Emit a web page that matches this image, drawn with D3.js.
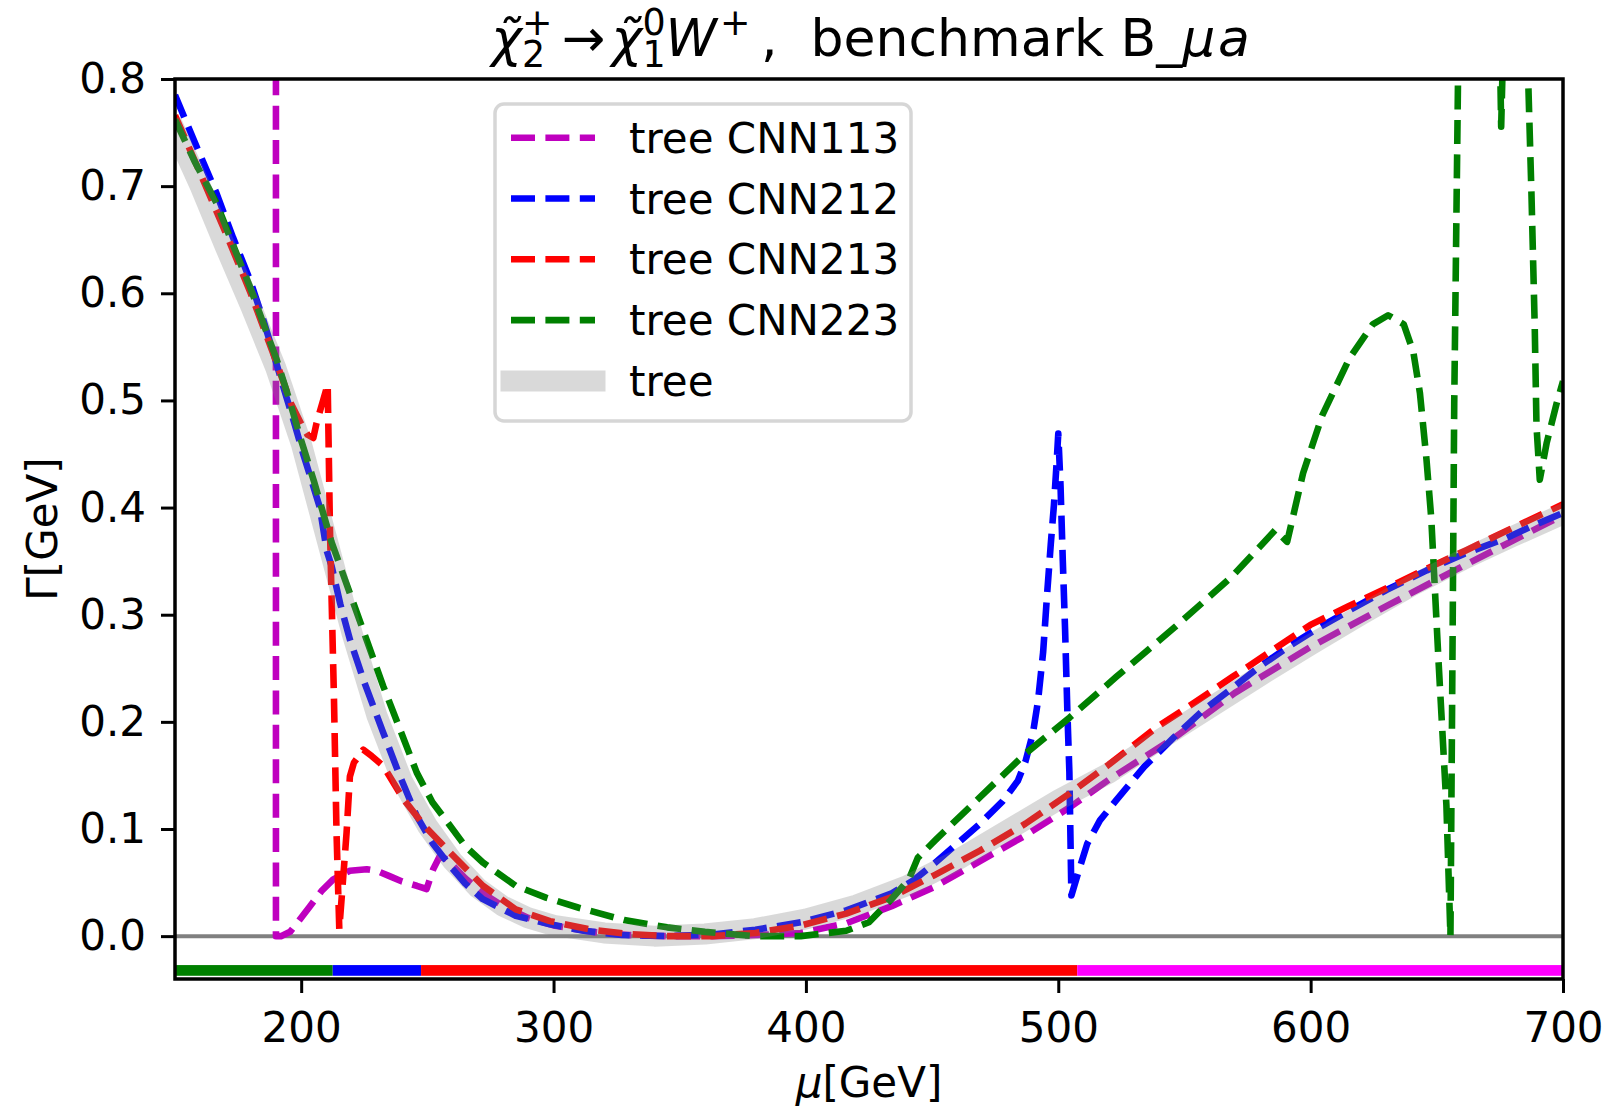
<!DOCTYPE html>
<html><head><meta charset="utf-8">
<script src="https://cdn.jsdelivr.net/npm/d3@7"></script>
<style>
body{margin:0;background:#fff}
svg{display:block}
text{font-family:"DejaVu Sans",sans-serif;white-space:pre}
</style></head><body>
<svg id="c" width="1609" height="1109"></svg>
<script>
// ---------------- data ----------------
const xTicks = [200, 300, 400, 500, 600, 700];
const yTicks = [0.0, 0.1, 0.2, 0.3, 0.4, 0.5, 0.6, 0.7, 0.8];

const seriesLabels = ["tree CNN113", "tree CNN212", "tree CNN213", "tree CNN223", "tree"];

const muTree = [150,160,170,180,190,200,210,220,230,240,250,260,270,280,290,300,320,340,360,380,400,420,440,460,480,500,520,540,560,580,600,620,640,660,680,700];
const gTree  = [0.752,0.700,0.643,0.588,0.530,0.460,0.372,0.284,0.206,0.145,0.103,0.070,0.045,0.028,0.017,0.010,0.003,0.000,0.002,0.007,0.016,0.029,0.047,0.071,0.099,0.127,0.152,0.183,0.213,0.243,0.272,0.300,0.327,0.351,0.373,0.394];

const mu113 = [150,170,185,189.5,189.9,190.0,192,195.6,199,203.5,208,212.7,219.3,226,230,235,240,245.8,249.7,252.3,255,258,265,272,280,290,300,315,330,345,363,380,398,416,434,451,469,487,504.4,520,546,570,600,630,660,700];
const g113  = [3,4,8,20,60,0.0,0.0,0.004,0.014,0.028,0.042,0.053,0.061,0.0625,0.061,0.056,0.051,0.047,0.044,0.0625,0.075,0.071,0.054,0.040,0.028,0.017,0.010,0.004,0.001,0.0,0.0,0.001,0.003,0.012,0.028,0.046,0.070,0.094,0.120,0.146,0.185,0.227,0.270,0.308,0.345,0.393];

const mu212 = [150,158,166.5,173,179.7,185,189,193,196.9,200.8,204.8,207.4,210.1,212.1,215.5,219.3,225,232.5,239,245.8,252,259,265,272,285,298.6,312,327,345,363,380,398,416,434,442.6,451,460,469,478,484,487,490,492,494,495.6,497,498.3,499.3,500,500.9,501.8,502.7,503.6,504.4,505.2,508,511.5,516.5,523,534,546,557,569,580,592.3,604,615.3,630,646,661,677,688,700];
const g212  = [0.785,0.740,0.693,0.652,0.6126,0.575,0.544,0.512,0.482,0.450,0.420,0.400,0.360,0.345,0.310,0.277,0.237,0.190,0.150,0.112,0.087,0.0656,0.049,0.0345,0.019,0.011,0.005,0.001,0.0,0.0015,0.006,0.013,0.024,0.040,0.052,0.068,0.0864,0.105,0.126,0.145,0.163,0.190,0.220,0.265,0.320,0.365,0.403,0.440,0.469,0.420,0.350,0.286,0.210,0.153,0.038,0.060,0.0864,0.108,0.127,0.158,0.186,0.210,0.2316,0.252,0.2718,0.289,0.304,0.323,0.3414,0.357,0.371,0.383,0.395];

const mu213 = [150,160,170,180,190,196,200.2,202.5,204.8,206.1,208.8,210.5,211.4,213,214,215.1,216,218,219.3,220.9,224.6,228,232.5,240.5,248.4,259,272,285,298.6,315,330,345,363,380,398,416,434,451,469,487,504.4,520,538.4,554,569.2,585,599.9,615,630.7,646,661.5,680,700];
const g213  = [0.766,0.712,0.657,0.600,0.537,0.497,0.477,0.468,0.465,0.479,0.501,0.515,0.380,0.221,0.097,0.0065,0.0345,0.097,0.149,0.162,0.174,0.168,0.159,0.128,0.104,0.078,0.047,0.025,0.014,0.006,0.002,0.0,0.0,0.003,0.010,0.021,0.0365,0.057,0.0798,0.105,0.133,0.160,0.194,0.218,0.2423,0.267,0.2905,0.308,0.3253,0.343,0.360,0.381,0.403];

const mu223 = [150,158,166.5,173,179.7,185,190.3,195,199.5,205,212,219.3,226,232.5,239,245.8,252,259,265,272,285,297,310,328,345,360,370,380,398,416,425,433.7,440.8,444.3,451.4,469,486.8,504.5,523,546,569,586,590.7,597,604.6,615.3,624.6,630.7,636.9,640.7,643.3,645.9,647.8,650.7,653.8,655.4,656.1,656.9,658.4,660,665,670,674.5,675.5,677,680,684,686.2,687.5,688.8,689.5,690.8,693.5,697.5,700];
const g223  = [0.762,0.722,0.684,0.645,0.606,0.572,0.538,0.503,0.4665,0.425,0.368,0.320,0.276,0.2334,0.194,0.1526,0.125,0.103,0.084,0.0687,0.047,0.036,0.0265,0.015,0.0082,0.004,0.002,0.0,0.0,0.005,0.013,0.034,0.053,0.073,0.0898,0.1297,0.170,0.204,0.242,0.288,0.336,0.379,0.368,0.432,0.486,0.539,0.571,0.5795,0.571,0.545,0.507,0.445,0.390,0.2557,0.122,0.0,0.229,0.497,0.80,1.5,2.5,1.6,0.9,0.7555,0.9,1.3,1.2,0.80,0.693,0.569,0.476,0.426,0.460,0.4975,0.518];

// scheme regions along the bottom bar
const bandStart = [150, 212.5, 247.5, 507.5];
const bandEnd   = [212.5, 247.5, 507.5, 700];
const barTop = -0.027, barBottom = -0.037;

// ---------------- styles ----------------
const seriesColors = ["#bf00bf", "#0000ff", "#ff0000", "#008000"];
const bandColors = ["#008000", "#0000ff", "#ff0000", "#ff00ff"];
const FS = 42;

// ---------------- chart ----------------
const svg = d3.select("#c");
svg.append("rect").attr("width",1609).attr("height",1109).attr("fill","#fff");
const M = {l:175, r:1563, t:79, b:979};
const x = d3.scaleLinear().domain([150,700]).range([M.l,M.r]);
const y = d3.scaleLinear().domain([-0.04,0.8]).range([M.b,M.t]);

svg.append("clipPath").attr("id","clip").append("rect")
  .attr("x",M.l).attr("y",M.t).attr("width",M.r-M.l).attr("height",M.b-M.t);
const plot = svg.append("g").attr("clip-path","url(#clip)");

// zero line
plot.append("line").attr("x1",x(150)).attr("x2",x(700)).attr("y1",y(0)).attr("y2",y(0))
  .attr("stroke","#808080").attr("stroke-width",4);

// bottom bar
bandStart.forEach((s,i)=>{
  plot.append("rect").attr("x",x(s)).attr("width",x(bandEnd[i])-x(s))
    .attr("y",y(barTop)).attr("height",y(barBottom)-y(barTop)).attr("fill",bandColors[i]);
});

const line = d3.line().x(d=>x(d[0])).y(d=>y(d[1]));
const zip = (a,b)=>a.map((v,i)=>[v,b[i]]);
const series = [zip(mu113,g113), zip(mu212,g212), zip(mu213,g213), zip(mu223,g223)];
series.forEach((s,i)=>{
  plot.append("path").attr("d",line(s)).attr("fill","none")
    .attr("stroke",seriesColors[i]).attr("stroke-width",6.6)
    .attr("stroke-dasharray","24,10.4").attr("stroke-linejoin","round").attr("stroke-linecap","butt");
});
// tree band on top
plot.append("path").attr("d",line(zip(muTree,gTree))).attr("fill","none")
  .attr("stroke","#808080").attr("stroke-opacity",0.3).attr("stroke-width",21)
  .attr("stroke-linejoin","round").attr("stroke-linecap","square");

// axes
const ax = svg.append("g").attr("transform",`translate(0,${M.b})`)
  .call(d3.axisBottom(x).tickValues(xTicks).tickFormat(d3.format("d")).tickSize(14).tickPadding(19));
const ay = svg.append("g").attr("transform",`translate(${M.l},0)`)
  .call(d3.axisLeft(y).tickValues(yTicks).tickFormat(d3.format(".1f")).tickSize(14).tickPadding(15));
[ax,ay].forEach(g=>{
  g.select(".domain").remove();
  g.selectAll(".tick line").attr("stroke","#000").attr("stroke-width",3);
  g.selectAll(".tick text").attr("fill","#000").attr("font-size",FS).attr("font-family","DejaVu Sans");
});
// frame
svg.append("rect").attr("x",M.l).attr("y",M.t).attr("width",M.r-M.l).attr("height",M.b-M.t)
  .attr("fill","none").attr("stroke","#000").attr("stroke-width",3.5);

// axis labels
const xl = svg.append("text").attr("x",(M.l+M.r)/2).attr("y",1097).attr("text-anchor","middle").attr("font-size",FS);
xl.append("tspan").attr("font-style","italic").text("μ");
xl.append("tspan").text("[GeV]");
svg.append("text").attr("transform",`translate(57,${(M.t+M.b)/2}) rotate(-90)`)
  .attr("text-anchor","middle").attr("font-size",FS).text("Γ[GeV]");

// legend
const lg = svg.append("g");
lg.append("rect").attr("x",495).attr("y",104).attr("width",416).attr("height",317).attr("rx",9)
  .attr("fill","#fff").attr("fill-opacity",0.8).attr("stroke","#d6d6d6").attr("stroke-width",3.5);
seriesLabels.forEach((lab,i)=>{
  const cy = 137.7 + i*60.8;
  if(i<4){
    lg.append("line").attr("x1",511).attr("x2",595).attr("y1",cy).attr("y2",cy)
      .attr("stroke",seriesColors[i]).attr("stroke-width",6.6).attr("stroke-dasharray","24,10.4");
  } else {
    lg.append("line").attr("x1",511).attr("x2",595).attr("y1",cy).attr("y2",cy)
      .attr("stroke","#808080").attr("stroke-opacity",0.3).attr("stroke-width",21).attr("stroke-linecap","square");
  }
  lg.append("text").attr("x",629).attr("y",cy+15).attr("font-size",FS).text(lab);
});

// title (mathtext-like), a single text element with tspans
const TF = 52, SS = TF*0.7, UP = -TF*0.40, DN = TF*0.22;
const title = svg.append("text").attr("font-size",TF).attr("x",0).attr("y",56);
const ts = (str, opt={}) => {
  const t = title.append("tspan").text(str);
  if(opt.size) t.attr("font-size",opt.size);
  if(opt.italic) t.attr("font-style","italic");
  if(opt.dy!==undefined) t.attr("dy",opt.dy);
  if(opt.dx!==undefined) t.attr("dx",opt.dx);
  return t;
};
ts("χ\u0303",{italic:true});
const w2 = ts("2",{size:SS,dy:DN});
ts("+",{size:SS,dy:UP-DN,dx:-w2.node().getComputedTextLength()});
ts("→",{dy:-UP,dx:TF*0.18});
ts("χ\u0303",{italic:true,dx:TF*0.12});
const w1 = ts("1",{size:SS,dy:DN});
ts("0",{size:SS,dy:UP-DN,dx:-w1.node().getComputedTextLength()});
ts("W",{italic:true,dy:-UP});
ts("+",{size:SS,dy:UP,dx:TF*0.06});
ts(",  benchmark B_",{dy:-UP,dx:TF*0.2});
ts("μ",{italic:true});
ts("a",{italic:true,dx:TF*0.05});
const bb = title.node().getBBox();
title.attr("x",(M.l+M.r)/2 - (bb.x + bb.width/2));
</script>
</body></html>
